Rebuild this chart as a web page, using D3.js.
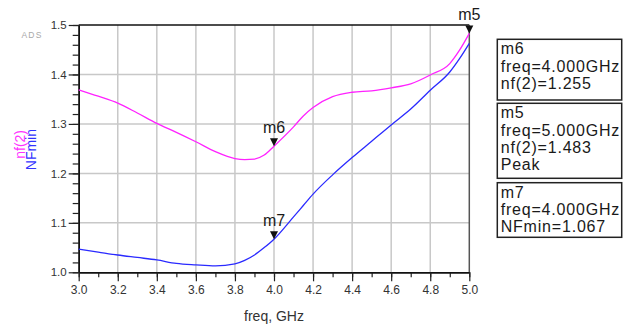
<!DOCTYPE html>
<html>
<head>
<meta charset="utf-8">
<script src="https://cdn.jsdelivr.net/npm/d3@7"></script>
<style>
	body { margin: 0; background: #fff; }
	svg { display: block; font-family: "Liberation Sans", Arial, sans-serif; }
</style>
</head>
<body>
<script>
// frequency points (GHz)
let freq = [3.0, 3.1, 3.2, 3.3, 3.4, 3.5, 3.6, 3.7, 3.8, 3.85, 3.9, 3.95, 4.0, 4.1, 4.15, 4.2, 4.3, 4.4, 4.5, 4.6, 4.7, 4.8, 4.9, 4.95, 5.0];
let nf2 = [1.369, 1.356, 1.342, 1.322, 1.301, 1.283, 1.264, 1.244, 1.230, 1.228, 1.229, 1.237, 1.255, 1.294, 1.316, 1.333, 1.355, 1.364, 1.367, 1.373, 1.381, 1.399, 1.422, 1.449, 1.483];
let nfMin = [1.047, 1.041, 1.035, 1.030, 1.025, 1.018, 1.015, 1.013, 1.017, 1.024, 1.035, 1.050, 1.067, 1.112, 1.135, 1.158, 1.197, 1.232, 1.265, 1.298, 1.330, 1.368, 1.405, 1.432, 1.463];

// markers
let markerNames = ['m6', 'm5', 'm7'];
let markerFreqs = [4.0, 5.0, 4.0];
let markerValues = [1.255, 1.483, 1.067];
let markerReadouts = [
	['m6', 'freq=4.000GHz', 'nf(2)=1.255'],
	['m5', 'freq=5.000GHz', 'nf(2)=1.483', 'Peak'],
	['m7', 'freq=4.000GHz', 'NFmin=1.067']
];

let xTicks = [3.0, 3.2, 3.4, 3.6, 3.8, 4.0, 4.2, 4.4, 4.6, 4.8, 5.0];
let yTicks = [1.0, 1.1, 1.2, 1.3, 1.4, 1.5];

let svg = d3.select('body').append('svg')
	.attr('width', 623)
	.attr('height', 329);

let xScale = d3.scaleLinear().domain([3, 5]).range([78.7, 469.3]);
let yScale = d3.scaleLinear().domain([1.0, 1.5]).range([272.3, 25]);

//grid
svg.append('g').selectAll('line')
	.data(yTicks.slice(1, -1))
	.enter().append('line')
	.attr('x1', xScale(3)).attr('x2', xScale(5))
	.attr('y1', d => yScale(d)).attr('y2', d => yScale(d))
	.attr('stroke', '#c8c8c8').attr('stroke-width', 1.5);

svg.append('g').selectAll('line')
	.data(xTicks.slice(1, -1))
	.enter().append('line')
	.attr('x1', d => xScale(d)).attr('x2', d => xScale(d))
	.attr('y1', yScale(1.0)).attr('y2', yScale(1.5))
	.attr('stroke', '#c8c8c8').attr('stroke-width', 1.5);

//frame top + right
svg.append('line')
	.attr('x1', xScale(3)).attr('x2', xScale(5))
	.attr('y1', yScale(1.5)).attr('y2', yScale(1.5))
	.attr('stroke', '#111').attr('stroke-width', 1.5);
svg.append('line')
	.attr('x1', xScale(5)).attr('x2', xScale(5))
	.attr('y1', yScale(1.5)).attr('y2', yScale(1.0))
	.attr('stroke', '#555').attr('stroke-width', 1.5);

//axes
function styleAxis(g) {
	g.select('.domain').attr('stroke', '#111').attr('stroke-width', 1.5);
	g.selectAll('.tick line').attr('stroke', '#222').attr('stroke-width', 1.2);
	g.selectAll('.tick text').attr('fill', '#333').attr('font-family', '"Liberation Sans", Arial, sans-serif');
}

svg.append('g')
	.attr('transform', 'translate(' + xScale(3) + ',0)')
	.call(d3.axisLeft(yScale).tickValues(d3.range(1.0, 1.5001, 0.02)).tickSize(6).tickSizeOuter(0).tickFormat(''))
	.call(styleAxis);
svg.append('g')
	.attr('transform', 'translate(' + xScale(3) + ',0)')
	.call(d3.axisLeft(yScale).tickValues(yTicks).tickSize(10).tickSizeOuter(0).tickPadding(2).tickFormat(d3.format('.1f')))
	.call(styleAxis)
	.selectAll('text').attr('font-size', '11.5px');

svg.append('g')
	.attr('transform', 'translate(0,' + yScale(1.0) + ')')
	.call(d3.axisBottom(xScale).tickValues(d3.range(3.0, 5.0001, 0.1)).tickSize(5).tickSizeOuter(0).tickFormat(''))
	.call(styleAxis);
svg.append('g')
	.attr('transform', 'translate(0,' + yScale(1.0) + ')')
	.call(d3.axisBottom(xScale).tickValues(xTicks).tickSize(9).tickSizeOuter(0).tickPadding(4).tickFormat(d3.format('.1f')))
	.call(styleAxis)
	.selectAll('text').attr('font-size', '12px');

//axis titles
svg.append('text')
	.attr('x', 274).attr('y', 321)
	.attr('text-anchor', 'middle')
	.attr('font-size', '14px')
	.attr('fill', '#333')
	.text('freq, GHz');

svg.append('text')
	.attr('transform', 'translate(25,130) rotate(-90)')
	.attr('text-anchor', 'end')
	.attr('font-size', '14px')
	.attr('fill', '#ff33ff')
	.text('nf(2)');
svg.append('text')
	.attr('transform', 'translate(36,129) rotate(-90)')
	.attr('text-anchor', 'end')
	.attr('font-size', '14px')
	.attr('fill', '#3333ff')
	.text('NFmin');

svg.append('text')
	.attr('x', 21.5).attr('y', 37.7)
	.attr('font-size', '8.5px')
	.attr('letter-spacing', '1.2px')
	.attr('fill', '#a8a8a8')
	.text('ADS');

//curves
let line = d3.line()
	.x(d => xScale(d[0]))
	.y(d => yScale(d[1]))
	.curve(d3.curveMonotoneX);

svg.append('path')
	.datum(d3.zip(freq, nf2))
	.attr('d', line)
	.attr('fill', 'none')
	.attr('stroke', '#ff22ff')
	.attr('stroke-width', 1.3);

svg.append('path')
	.datum(d3.zip(freq, nfMin))
	.attr('d', line)
	.attr('fill', 'none')
	.attr('stroke', '#2a2aff')
	.attr('stroke-width', 1.3);

//markers
let markers = svg.append('g').selectAll('g')
	.data(markerNames)
	.enter().append('g')
	.attr('transform', (d, i) => 'translate(' + xScale(markerFreqs[i]) + ',' + yScale(markerValues[i]) + ')');

markers.append('path')
	.attr('d', 'M-4,-8L4,-8L0,0Z')
	.attr('fill', '#111');

markers.append('text')
	.attr('x', 0).attr('y', -13.5)
	.attr('text-anchor', 'middle')
	.attr('font-size', '16px')
	.attr('fill', '#1a1a1a')
	.text(d => d);

//marker readout boxes
let boxTops = [39.3, 103.3, 182.7];
let boxHeights = [60.7, 75, 54.6];

let boxes = svg.append('g').selectAll('g')
	.data(markerReadouts)
	.enter().append('g')
	.attr('transform', (d, i) => 'translate(497.3,' + boxTops[i] + ')');

boxes.append('rect')
	.attr('width', 124.4)
	.attr('height', (d, i) => boxHeights[i])
	.attr('fill', '#fff')
	.attr('stroke', '#222')
	.attr('stroke-width', 1.5);

boxes.selectAll('text')
	.data(d => d)
	.enter().append('text')
	.attr('x', 3.4)
	.attr('y', (d, i) => 15 + i * 17.4)
	.attr('font-size', '16px')
	.attr('letter-spacing', '0.8px')
	.attr('fill', '#1a1a1a')
	.text(d => d);
</script>
</body>
</html>
